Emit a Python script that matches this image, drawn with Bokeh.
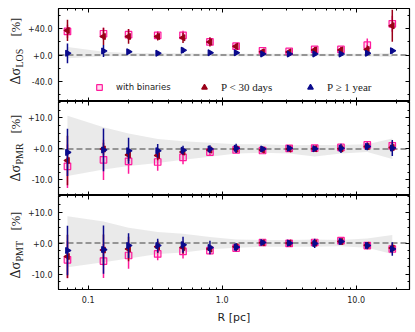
import numpy as np
from bokeh.plotting import figure
from bokeh.models import (Range1d, FixedTicker, PrintfTickFormatter, LinearAxis, LogAxis,
                          Span, Legend, LegendItem, ColumnDataSource,
                          CustomJSTickFormatter)
from bokeh.core.properties import value
from bokeh.layouts import column, row
from bokeh.embed import file_html
from bokeh.resources import INLINE

# ---------------- data ----------------
R_PC = [0.07, 0.13, 0.20, 0.33, 0.51, 0.81, 1.27, 2.0, 3.16, 4.9, 7.7, 12.1, 18.6]
X_TICKS = [0.1, 1.0, 10.0]
X_MINOR = [0.06, 0.07, 0.08, 0.09, 0.2, 0.3, 0.4, 0.5, 0.6, 0.7, 0.8, 0.9,
           2, 3, 4, 5, 6, 7, 8, 9, 20]

# LOS panel
LOS_BIN = [35.5, 32.0, 30.6, 29.6, 29.6, 19.7, 13.3, 6.4, 5.4, 8.4, 8.4, 14.8, 47.0]
LOS_BIN_ERR = [10, 9, 8, 6, 7, 5, 4, 3, 3, 4, 4, 10, 12]
LOS_SHORT = [37.0, 28.0, 28.0, 28.0, 26.0, 19.7, 13.0, 5.0, 4.5, 7.5, 7.5, 8.4, 44.0]
LOS_SHORT_ERR = [16, 13, 11, 6, 8, 7, 4, 2, 2, 4, 4, 6, 24]
LOS_LONG = [2.5, 6.0, 5.0, 2.5, 7.0, 3.5, 3.5, 1.5, 1.5, 1.5, 1.5, 2.5, 6.3]
LOS_LONG_ERR = [15, 9, 3, 2, 4, 2, 2, 1, 1, 1, 1, 2, 4]
LOS_BAND_HI = [12, 5, 3, 2.5, 2.5, 2, 2, 2, 2, 2, 2, 2, 3]
LOS_BAND_LO = [-5, -2, -2, -2, -2, -2, -2, -2, -2, -2, -2, -2, -3]

# PMR panel
PMR_BIN = [-5.6, -3.5, -4.0, -4.2, -2.7, -1.0, -0.3, -0.5, 0.2, 0.3, 0.5, 1.3, 1.0]
PMR_BIN_ERR = [7.0, 6.5, 4.0, 2.8, 2.2, 1.3, 1.0, 0.8, 0.8, 0.8, 0.8, 1.0, 1.5]
PMR_SHORT = [-3.7, 0.0, -1.9, -2.1, -1.0, -0.3, 0.0, -0.3, 0.0, 0.1, 0.1, 0.8, 0.5]
PMR_SHORT_ERR = [8.0, 2.0, 2.0, 1.5, 1.0, 1.0, 1.0, 0.7, 0.7, 0.7, 1.0, 1.0, 1.5]
PMR_LONG = [-1.1, -0.3, -0.6, -0.6, -0.4, 0.0, 0.2, 0.0, 0.2, 0.1, 0.2, 0.8, 0.3]
PMR_LONG_ERR = [7.6, 6.9, 4.2, 2.2, 1.4, 1.2, 1.5, 0.8, 0.8, 0.8, 1.5, 1.2, 2.6]
PMR_BAND_HI = [10.7, 7.0, 5.0, 3.2, 2.5, 2.0, 1.5, 1.5, 1.2, 1.3, 1.3, 1.5, 3.4]
PMR_BAND_LO = [-8.7, -6.6, -5.5, -4.5, -3.5, -2.5, -1.5, -1.2, -1.5, -2.4, -1.5, -1.0, -3.2]

# PMT panel
PMT_BIN = [-5.4, -5.8, -4.0, -3.5, -2.7, -2.4, -1.6, 0.2, -0.1, 0.2, 0.8, -0.8, -1.9]
PMT_BIN_ERR = [6.0, 5.5, 4.3, 2.0, 2.3, 1.2, 1.0, 0.8, 0.8, 0.8, 1.0, 1.0, 1.2]
PMT_SHORT = [-4.3, -2.2, -1.9, -1.2, -1.4, -1.9, -1.2, 0.1, 0.0, 0.0, 0.5, -0.7, -1.6]
PMT_SHORT_ERR = [7.0, 5.0, 4.0, 2.0, 2.0, 1.0, 1.0, 0.8, 0.8, 1.0, 1.0, 1.0, 1.5]
PMT_LONG = [-2.4, -2.1, -0.8, -0.8, -0.5, -1.4, -1.3, 0.2, 0.0, -0.1, 0.5, -0.8, -1.9]
PMT_LONG_ERR = [8.0, 7.8, 4.0, 2.2, 2.6, 2.2, 1.3, 0.8, 0.8, 1.5, 1.0, 1.2, 2.2]
PMT_BAND_HI = [8.7, 7.0, 5.0, 3.6, 3.0, 2.0, 1.2, 1.0, 1.0, 1.2, 1.0, 1.5, 2.6]
PMT_BAND_LO = [-7.8, -6.2, -5.0, -3.5, -3.0, -2.0, -1.5, -1.2, -1.2, -1.2, -1.0, -1.5, -3.5]

LEGEND_LABELS = ["with binaries", "P < 30 days", "P \u2265 1 year"]
YLABEL_SUBS = ["LOS", "PMR", "PMT"]

PINK = "#ff1a9c"
RED = "#9a0018"
BLUE = "#0a0a8c"
TXT = "#222222"

LAB_W = 24
LAB_H = 320
x_range = Range1d(0.06, 25)
x_ticker = FixedTicker(ticks=X_TICKS, minor_ticks=X_MINOR)


def style_axis(ax, labels):
    ax.axis_line_color = "black"
    ax.axis_line_width = 1.2
    ax.major_tick_in = 4
    ax.major_tick_out = 0
    ax.minor_tick_in = 2
    ax.minor_tick_out = 0
    ax.major_tick_line_color = "black"
    ax.minor_tick_line_color = "black"
    ax.major_tick_line_width = 1
    ax.minor_tick_line_width = 1
    if labels:
        ax.major_label_text_font = "DejaVu Sans"
        ax.major_label_text_font_size = "8px"
        ax.major_label_text_color = TXT
        ax.major_label_standoff = 6
    else:
        ax.formatter = CustomJSTickFormatter(code="return ''")
        ax.major_label_text_font_size = "1px"
        ax.major_label_standoff = 0


def label_fig():
    # narrow strip holding the three rotated y-axis titles (top-down pixel coords)
    lf = figure(width=LAB_W, height=LAB_H, x_range=Range1d(0, LAB_W),
                y_range=Range1d(LAB_H, 0), min_border=0, title=None,
                x_axis_location=None, y_axis_location=None,
                output_backend="svg", toolbar_location=None)
    lf.grid.visible = False
    lf.outline_line_color = None
    font = value("Liberation Serif")
    starts = [84, 181, 278]
    for sub, y0 in zip(YLABEL_SUBS, starts):
        lf.text(x=[14.5], y=[y0], text=["\u0394\u03c3"], angle=np.pi / 2, text_font=font,
                text_font_size="14px", text_baseline="middle", text_align="left",
                text_color=TXT)
        lf.text(x=[18.5], y=[y0 - 17], text=[sub], angle=np.pi / 2, text_font=font,
                text_font_size="10px", text_baseline="middle", text_align="left",
                text_color=TXT)
        lf.text(x=[15.5], y=[y0 - 48], text=["[%]"], angle=np.pi / 2, text_font=font,
                text_font_size="12.5px", text_baseline="middle", text_align="left",
                text_color=TXT)
    return lf


def panel(ylim, yt, ym, series, band_lo, band_hi, fh, top_border,
          bottom=False, legend=False):
    p = figure(x_axis_type="log", x_range=x_range, y_range=Range1d(*ylim),
               frame_width=351, frame_height=fh,
               output_backend="svg", toolbar_location=None,
               min_border_left=56 - LAB_W, min_border_right=2,
               min_border_top=top_border,
               min_border_bottom=31 if bottom else 0)
    p.grid.visible = False
    p.outline_line_color = "black"
    p.background_fill_color = "white"

    p.varea(x=R_PC, y1=band_lo, y2=band_hi, fill_color="#d6d6d6", fill_alpha=0.5,
            level="image")
    zero = Span(location=0, dimension="width", line_color="#7a7a7a",
                line_dash="6 3", line_width=1.5, level="underlay")
    p.add_layout(zero)

    renderers = []
    for vals, errs, color, marker, angle, fill_alpha, size in series:
        src = ColumnDataSource(dict(
            x=R_PC, y=vals,
            lo=[v - e for v, e in zip(vals, errs)],
            hi=[v + e for v, e in zip(vals, errs)],
            ang=[angle] * len(vals)))
        p.segment(x0="x", y0="lo", x1="x", y1="hi", source=src,
                  line_color=color, line_width=1.5)
        r = p.scatter(x="x", y="y", source=src, marker=marker, angle="ang", size=size,
                      line_color=color, fill_color=color, fill_alpha=fill_alpha,
                      line_width=1.2)
        renderers.append(r)

    yticker = FixedTicker(ticks=yt, minor_ticks=ym)
    p.yaxis.ticker = yticker
    p.yaxis.formatter = PrintfTickFormatter(format="%+.1f")
    style_axis(p.yaxis[0], True)
    p.xaxis.ticker = x_ticker
    p.xaxis.formatter = PrintfTickFormatter(format="%.1f")
    style_axis(p.xaxis[0], bottom)
    if bottom:
        p.xaxis.axis_label = "R [pc]"
        p.xaxis.axis_label_text_font = "DejaVu Sans"
        p.xaxis.axis_label_text_font_style = "normal"
        p.xaxis.axis_label_text_font_size = "11px"
        p.xaxis.axis_label_standoff = 5
        p.xaxis.axis_label_text_color = TXT

    right = LinearAxis(ticker=yticker)
    style_axis(right, False)
    p.add_layout(right, "right")
    top = LogAxis(ticker=x_ticker)
    style_axis(top, False)
    p.add_layout(top, "above")

    if legend:
        fonts = [("DejaVu Sans", "8.5px"), ("Liberation Serif", "11px"),
                 ("Liberation Serif", "11px")]
        xs = [34, 139, 245]
        for r, lab, (fnt, fsz), lx in zip(renderers, LEGEND_LABELS, fonts, xs):
            leg = Legend(items=[LegendItem(label=lab, renderers=[r])],
                         location=(lx, 7), orientation="horizontal",
                         padding=0, margin=0, spacing=0,
                         glyph_width=14, glyph_height=14, label_height=14,
                         label_standoff=10, label_text_font=fnt,
                         label_text_font_size=fsz, label_text_color=TXT,
                         background_fill_alpha=0, border_line_alpha=0)
            p.add_layout(leg)
    return p


def series(b, be, s, se, l, le):
    return [
        (b, be, PINK, "square", 0.0, 0.15, 6.5),
        (s, se, RED, "triangle", np.pi / 2, 1.0, 6),
        (l, le, BLUE, "triangle", -np.pi / 2, 1.0, 6),
    ]


minor15 = [-15, -12.5, -7.5, -5, -2.5, 2.5, 5, 7.5, 12.5, 15]
p1 = panel((-70, 70), [-40, 0, 40], [-60, -20, 20, 60],
           series(LOS_BIN, LOS_BIN_ERR, LOS_SHORT, LOS_SHORT_ERR, LOS_LONG, LOS_LONG_ERR),
           LOS_BAND_LO, LOS_BAND_HI, 93, 8, legend=True)
p2 = panel((-15, 15.3), [-10, 0, 10], minor15,
           series(PMR_BIN, PMR_BIN_ERR, PMR_SHORT, PMR_SHORT_ERR, PMR_LONG, PMR_LONG_ERR),
           PMR_BAND_LO, PMR_BAND_HI, 94, 0)
p3 = panel((-15, 15.4), [-10, 0, 10], minor15,
           series(PMT_BIN, PMT_BIN_ERR, PMT_SHORT, PMT_SHORT_ERR, PMT_LONG, PMT_LONG_ERR),
           PMT_BAND_LO, PMT_BAND_HI, 94, 0, bottom=True)

layout = row(label_fig(), column(p1, p2, p3))
open("out.html", "w").write(file_html(layout, INLINE))
